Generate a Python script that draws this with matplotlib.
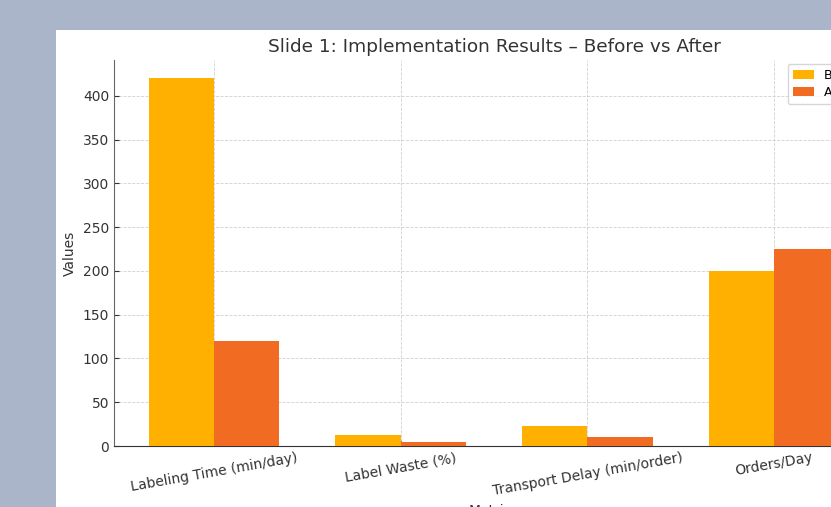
import matplotlib.pyplot as plt
import numpy as np
from matplotlib.patches import Rectangle

metrics = ["Labeling Time (min/day)", "Label Waste (%)",
           "Transport Delay (min/order)", "Orders/Day"]
before = [420, 12, 23, 200]
after = [120, 4, 10, 225]

W, H, DPI = 831, 507, 100
fig = plt.figure(figsize=(W / DPI, H / DPI), dpi=DPI)
fig.patch.set_facecolor("#abb5c9")

# white slide panel behind the chart
fig.patches.append(Rectangle((56 / W, 0), 1 - 56 / W, (H - 30) / H,
                             transform=fig.transFigure, facecolor="white",
                             edgecolor="none", zorder=-10))

left, right, top, bottom = 114, 874, 60, 446
ax = fig.add_axes([left / W, (H - bottom) / H, (right - left) / W, (bottom - top) / H])
ax.set_facecolor("white")
ax.set_zorder(1)

x = np.arange(len(metrics))
width = 0.35
ax.bar(x - width / 2, before, width, label="Before", color="#FFB000", zorder=3)
ax.bar(x + width / 2, after, width, label="After", color="#F26B22", zorder=3)

ax.set_title("Slide 1: Implementation Results – Before vs After", fontsize=13.3,
             color="#333333", pad=6)
ax.set_ylabel("Values", fontsize=10, color="#333333")
ax.set_xlabel("Metrics", fontsize=10, color="#333333")
ax.set_xticks(x)
ax.set_xticklabels(metrics, rotation=10, ha="center")
ax.tick_params(colors="#333333", labelsize=10, direction="in")
ax.grid(True, linestyle="--", color="#d0d0d0", linewidth=0.6, zorder=0)
for s in ["top", "right"]:
    ax.spines[s].set_visible(False)
ax.spines["left"].set_color("#666666")
ax.spines["bottom"].set_color("#333333")
ax.legend(loc="upper right", fontsize=9, handlelength=1.7, labelspacing=0.35,
          borderaxespad=0.3)

fig.savefig("out.png", dpi=DPI)
